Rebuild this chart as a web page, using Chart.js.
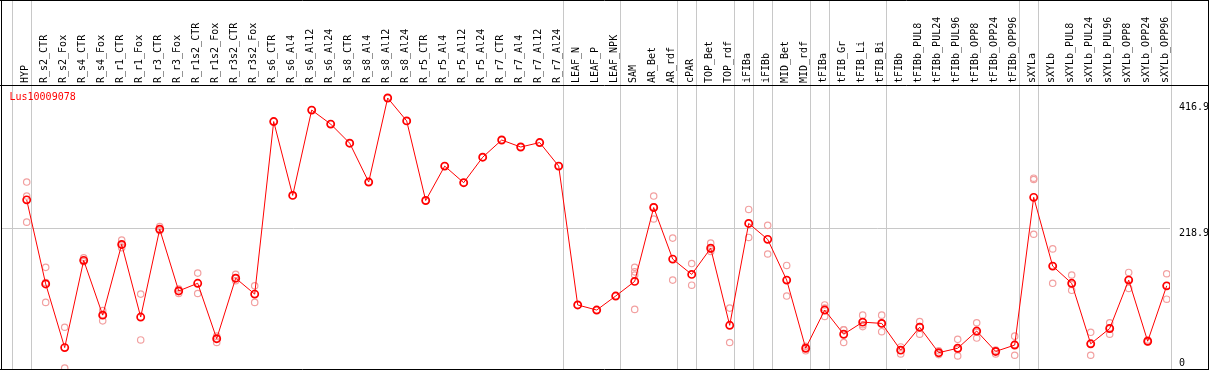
<!DOCTYPE html>
<html>
<head>
<meta charset="utf-8">
<script src="https://cdn.jsdelivr.net/npm/chart.js@4.4.1/dist/chart.umd.min.js"></script>
<style>
  html, body { margin: 0; padding: 0; background: #fff; }
</style>
</head>
<body>
<canvas id="chart" width="1209" height="370"></canvas>
<script>
const geneName = "Lus10009078";

const categories = [
  "HYP", "R_s2_CTR", "R_s2_Fox", "R_s4_CTR", "R_s4_Fox", "R_r1_CTR", "R_r1_Fox", "R_r3_CTR", "R_r3_Fox",
  "R_r1s2_CTR", "R_r1s2_Fox", "R_r3s2_CTR", "R_r3s2_Fox", "R_s6_CTR", "R_s6_Al4", "R_s6_Al12", "R_s6_Al24",
  "R_s8_CTR", "R_s8_Al4", "R_s8_Al12", "R_s8_Al24", "R_r5_CTR", "R_r5_Al4", "R_r5_Al12", "R_r5_Al24",
  "R_r7_CTR", "R_r7_Al4", "R_r7_Al12", "R_r7_Al24", "LEAF_N", "LEAF_P", "LEAF_NPK", "SAM", "AR_Bet", "AR_rdf",
  "cPAR", "TOP_Bet", "TOP_rdf", "iFIBa", "iFIBb", "MID_Bet", "MID_rdf", "tFIBa", "tFIB_Gr", "tFIB_Li", "tFIB_Bi",
  "tFIBb", "tFIBb_PUL8", "tFIBb_PUL24", "tFIBb_PUL96", "tFIBb_OPP8", "tFIBb_OPP24", "tFIBb_OPP96",
  "sXYLa", "sXYLb", "sXYLb_PUL8", "sXYLb_PUL24", "sXYLb_PUL96", "sXYLb_OPP8", "sXYLb_OPP24", "sXYLb_OPP96"
];

// mean per sample (the joined line)
const means = [
  264, 132, 32, 169, 83, 194, 80, 218, 121, 133, 46, 141, 116,
  387, 271, 405, 383, 353, 292, 424, 388, 263, 317, 291, 331, 358, 347, 354, 317,
  99, 91, 113,
  136, 252, 171, 147,
  188, 67, 227, 202,
  138, 31, 91, 53, 72, 70,
  28, 64, 24, 31, 58, 26, 36,
  268, 160, 133, 38, 62, 138, 42, 129
];

// replicates (pale circles)
const rep1 = [
  292, 158, 64, 173, 90, 201, 116, 222, 124, 149, 50, 147, 129,
  387, 271, 405, 383, 353, 292, 424, 388, 263, 317, 291, 331, 358, 347, 354, 317,
  99, 91, 113,
  158, 270, 204, 164,
  196, 94, 249, 224,
  161, 34, 99, 60, 83, 83,
  33, 73, 27, 45, 71, 28, 50,
  298, 187, 146, 56, 71, 150, 44, 148
];
const rep2 = [
  270, 134, 0, 167, 84, 193, 44, 216, 121, 117, 46, 141, 103,
  null, null, null, null, null, null, null, null, null, null, null, null, null, null, null, null,
  null, null, null,
  151, 253, 138, 130,
  186, 40, 205, 179,
  138, 31, 94, 60, 65, 70,
  28, 65, 23, 29, 56, 26, 37,
  296, 160, 131, 38, 63, 139, 42, 129
];
const rep3 = [
  229, 103, null, 168, 74, 189, null, 216, 117, null, 40, 137, null,
  null, null, null, null, null, null, null, null, null, null, null, null, null, null, null, null,
  null, null, null,
  146, 234, null, null,
  183, null, null, null,
  113, 27, 81, 40, 68, 57,
  22, 53, 21, 19, 47, 22, 20,
  210, 133, 122, 20, 53, 125, 41, 108
];
const rep4 = [
  null, null, null, null, null, null, null, null, null, null, null, null, null,
  null, null, null, null, null, null, null, null, null, null, null, null, null, null, null, null,
  null, null, null,
  92, null, null, null,
  null, null, null, null,
  null, null, null, null, null, null,
  null, null, null, null, null, null, null,
  null, null, null, null, null, null, null, null
];

// last sample of each tissue group (-1 = before the first)
const groupEnds = [-1, 0, 28, 31, 34, 35, 37, 38, 39, 41, 42, 45, 52, 53, 60];
const yTicks = [0, 218.9, 416.9];

const toPoints = arr => arr.map((v, i) => ({ x: i, y: v })).filter(p => p.y !== null);

const monoFont = '"DejaVu Sans Mono", monospace';

function noPadding(s) {
  s.paddingLeft = 0;
  s.paddingRight = 0;
  s.paddingTop = 0;
  s.paddingBottom = 0;
}

const framePlugin = {
  id: 'frame',
  beforeDatasetsDraw(chart) {
    const { ctx, chartArea } = chart;
    const x = chart.scales.x;
    ctx.save();
    ctx.strokeStyle = '#c8c8c8';
    ctx.lineWidth = 1;
    groupEnds.forEach(g => {
      const px = Math.round(x.getPixelForValue(g + 0.21)) + 0.5;
      ctx.beginPath();
      ctx.moveTo(px, 0);
      ctx.lineTo(px, chartArea.bottom);
      ctx.stroke();
    });
    ctx.restore();
  },
  afterDraw(chart) {
    const { ctx, chartArea, width } = chart;
    const y = chart.scales.y;
    ctx.save();
    // outer box and header rule
    ctx.strokeStyle = '#000';
    ctx.lineWidth = 1;
    ctx.beginPath();
    ctx.moveTo(0, 0.5); ctx.lineTo(width, 0.5);
    ctx.moveTo(0, chartArea.top + 0.5); ctx.lineTo(width, chartArea.top + 0.5);
    ctx.moveTo(0, chartArea.bottom + 0.5); ctx.lineTo(width, chartArea.bottom + 0.5);
    ctx.moveTo(1.5, 0); ctx.lineTo(1.5, chartArea.bottom);
    ctx.moveTo(width - 0.5, 0); ctx.lineTo(width - 0.5, chartArea.bottom);
    ctx.stroke();

    // y tick labels sit just under their value
    ctx.font = '10px ' + monoFont;
    ctx.fillStyle = '#000';
    ctx.textAlign = 'left';
    ctx.textBaseline = 'top';
    y.ticks.forEach(t => {
      const py = Math.min(y.getPixelForValue(t.value) - 0.5, chartArea.bottom - 11);
      ctx.fillText(String(t.value), chartArea.right + 9, py);
    });

    ctx.fillStyle = '#ff0000';
    ctx.fillText(geneName, chartArea.left + 8.5, chartArea.top + 7);
    ctx.restore();
  }
};

const repStyle = {
  showLine: false,
  pointRadius: 3.2,
  pointBorderWidth: 1.2,
  pointBorderColor: '#f2a0a0',
  pointBackgroundColor: 'rgba(0,0,0,0)'
};

const ctx = document.getElementById('chart').getContext('2d');
new Chart(ctx, {
  type: 'line',
  data: {
    datasets: [
      {
        label: geneName,
        data: toPoints(means),
        borderColor: '#ff0000',
        borderWidth: 1,
        pointRadius: 3.6,
        pointBorderWidth: 1.7,
        pointBorderColor: '#ff0000',
        pointBackgroundColor: 'rgba(0,0,0,0)',
        fill: false,
        tension: 0
      },
      Object.assign({ data: toPoints(rep1) }, repStyle),
      Object.assign({ data: toPoints(rep2) }, repStyle),
      Object.assign({ data: toPoints(rep3) }, repStyle),
      Object.assign({ data: toPoints(rep4) }, repStyle)
    ]
  },
  options: {
    responsive: false,
    animation: false,
    devicePixelRatio: 1,
    layout: { autoPadding: false, padding: { left: 1, right: 0, top: 0, bottom: 1 } },
    plugins: {
      legend: { display: false },
      tooltip: { enabled: false }
    },
    scales: {
      x: {
        type: 'linear',
        position: 'top',
        min: -1.3526,
        max: 60.174,
        afterBuildTicks: s => { s.ticks = categories.map((c, i) => ({ value: i })); },
        afterFit: s => { s.height = 85; noPadding(s); },
        grid: { display: false, drawTicks: false },
        border: { display: false },
        ticks: {
          autoSkip: false,
          minRotation: 90,
          maxRotation: 90,
          padding: 2,
          labelOffset: 11,
          color: '#000',
          font: { family: monoFont, size: 10 },
          callback: v => categories[v]
        }
      },
      y: {
        position: 'right',
        min: -1.6,
        max: 444.4,
        afterBuildTicks: s => { s.ticks = yTicks.map(v => ({ value: v })); },
        afterFit: s => { s.width = 39; noPadding(s); },
        grid: {
          drawTicks: false,
          color: c => (c.index === 1 ? '#c8c8c8' : 'rgba(0,0,0,0)')
        },
        border: { display: false },
        ticks: { display: false }
      }
    }
  },
  plugins: [framePlugin]
});
</script>
</body>
</html>
